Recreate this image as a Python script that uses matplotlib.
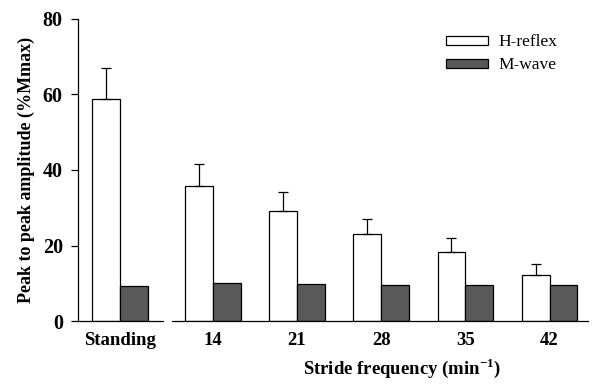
import numpy as np
import matplotlib
matplotlib.use("Agg")
import matplotlib.pyplot as plt

plt.rcParams['font.family'] = ['Liberation Serif', 'DejaVu Serif']

categories = ['Standing', '14', '21', '28', '35', '42']
xpos = [-0.1, 1, 2, 3, 4, 5]
h_reflex = [58.9, 35.8, 29.2, 23.0, 18.3, 12.1]
h_err = [8.0, 5.9, 4.9, 4.0, 3.7, 2.9]
m_wave = [9.4, 10.0, 9.7, 9.6, 9.6, 9.6]

fig = plt.figure(figsize=(5.96, 3.85), dpi=100)
ax = fig.add_axes([0.131, 0.166, 0.856, 0.785])

w = 0.33
x = np.array(xpos)
ax.bar(x - w / 2, h_reflex, w, color='white', edgecolor='black', linewidth=0.9,
       yerr=[np.zeros(len(h_err)), h_err], capsize=3.5,
       error_kw=dict(elinewidth=0.9, capthick=0.9, ecolor='black'), label='H-reflex')
ax.bar(x + w / 2, m_wave, w, color='#595959', edgecolor='black', linewidth=0.9,
       label='M-wave')

ax.set_xlim(-0.6, 5.46)
ax.set_ylim(0, 80)
ax.set_yticks([0, 20, 40, 60, 80])
ax.set_xticks(xpos)
ax.set_xticklabels(categories)
ax.tick_params(axis='x', length=0, pad=8)
ax.tick_params(axis='y', direction='out', length=5, width=0.9, pad=6)
for lab in ax.get_xticklabels():
    lab.set_fontsize(13.5)
    lab.set_fontweight('bold')
for lab in ax.get_yticklabels():
    lab.set_fontsize(14.5)
    lab.set_fontweight('bold')

for s in ['top', 'right', 'bottom']:
    ax.spines[s].set_visible(False)
ax.spines['left'].set_linewidth(0.9)

# broken baseline
ax.plot([-0.6, 0.41], [0, 0], color='black', lw=0.9, clip_on=False)
ax.plot([0.51, 5.46], [0, 0], color='black', lw=0.9, clip_on=False)

ax.set_ylabel('Peak to peak amplitude (%Mmax)', fontsize=13, fontweight='bold')
ax.yaxis.set_label_coords(-0.085, 0.5)
ax.set_xlabel(r'Stride frequency (min$^{\mathregular{-1}}$)', fontsize=13.5, fontweight='bold')
ax.xaxis.set_label_coords(0.635, -0.115)

ax.legend(loc='upper right', bbox_to_anchor=(0.97, 1.0), frameon=False, fontsize=12.5,
          handlelength=2.4, handleheight=0.45, handletextpad=0.6, labelspacing=0.4)

fig.savefig('out.png', dpi=100)
